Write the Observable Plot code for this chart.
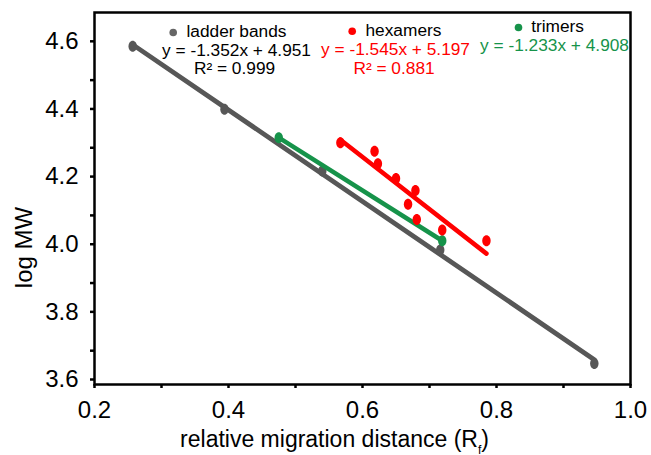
<!DOCTYPE html>
<html><head><meta charset="utf-8">
<script src="https://cdn.jsdelivr.net/npm/d3@7"></script>
<script src="https://cdn.jsdelivr.net/npm/@observablehq/plot@0.6"></script>
<style>html,body{margin:0;padding:0;background:#fff;overflow:hidden} #chart svg{display:block}</style>
</head><body><div id="chart"></div>
<script>
// ---- data ----
const ladderX = [0.257, 0.394, 0.540, 0.716, 0.946];
const ladderY = [4.600, 4.414, 4.231, 3.998, 3.662];
const hexX = [0.567, 0.618, 0.623, 0.650, 0.679, 0.668, 0.681, 0.719, 0.785];
const hexY = [4.315, 4.290, 4.253, 4.209, 4.174, 4.133, 4.088, 4.057, 4.025];
const triX = [0.475, 0.719];
const triY = [4.330, 4.025];
const seriesNames = ["ladder bands", "hexamers", "trimers"];
const equations = ["y = -1.352x + 4.951", "y = -1.545x + 5.197", "y = -1.233x + 4.908"];
const r2Labels = ["R\u00b2 = 0.999", "R\u00b2 = 0.881"];
const xMajorTicks = [0.2, 0.4, 0.6, 0.8, 1.0];
const xMinorTicks = [0.3, 0.5, 0.7, 0.9];
const yMajorTicks = [3.6, 3.8, 4.0, 4.2, 4.4, 4.6];
const yMinorTicks = [3.7, 3.9, 4.1, 4.3, 4.5];
const xTitleParts = ["relative migration distance (R", "f", ")"];
const yTitle = "log MW";

const ladder = ladderX.map((x, i) => ({x, y: ladderY[i]}));
const hex = hexX.map((x, i) => ({x, y: hexY[i]}));
const tri = triX.map((x, i) => ({x, y: triY[i]}));

const GRAY = "#575757", RED = "#ff0000", GREEN = "#16934a";
const FONT = "'Liberation Sans', Arial, sans-serif";

// vertical ellipse symbol
const ellipse = {draw(ctx) {
  const rx = 4.2, ry = 5.5, k = 0.5523;
  ctx.moveTo(rx, 0);
  ctx.bezierCurveTo(rx, ry * k, rx * k, ry, 0, ry);
  ctx.bezierCurveTo(-rx * k, ry, -rx, ry * k, -rx, 0);
  ctx.bezierCurveTo(-rx, -ry * k, -rx * k, -ry, 0, -ry);
  ctx.bezierCurveTo(rx * k, -ry, rx, -ry * k, rx, 0);
  ctx.closePath();
}};

const fmt = d3.format(".1f");
const LF = 16;
const leg = (txt, dx, dy, anchor, fill) =>
  Plot.text([txt], {frameAnchor: "top-left", dx, dy, textAnchor: anchor, lineAnchor: "bottom", fontSize: LF, fill, className: "leg"});

const chart = Plot.plot({
  width: 651, height: 455,
  marginLeft: 94, marginRight: 21, marginTop: 12, marginBottom: 71,
  style: {fontFamily: FONT, background: "white", color: "black"},
  x: {domain: [0.2, 1.0]},
  y: {domain: [3.6, 4.7]},
  marks: [
    Plot.axisX(xMinorTicks, {tickSize: 4, strokeWidth: 2.5, tickFormat: () => "", label: null}),
    Plot.axisX(xMajorTicks, {tickSize: 4, strokeWidth: 2.5, tickPadding: 12, tickFormat: fmt, fontSize: 24, label: null}),
    Plot.axisY(yMinorTicks, {tickSize: 4, strokeWidth: 2.5, tickFormat: () => "", label: null}),
    Plot.axisY(yMajorTicks, {tickSize: 4, strokeWidth: 2.5, tickPadding: 12, tickFormat: fmt, fontSize: 24, dy: -5, label: null}),
    Plot.frame({stroke: "black", strokeWidth: 2.5}),
    Plot.linearRegressionY(ladder, {x: "x", y: "y", ci: 0, stroke: GRAY, strokeWidth: 4.8, strokeLinecap: "round"}),
    Plot.dot(ladder, {x: "x", y: "y", symbol: ellipse, fill: GRAY}),
    Plot.linearRegressionY(tri, {x: "x", y: "y", ci: 0, stroke: GREEN, strokeWidth: 4.5, strokeLinecap: "round"}),
    Plot.dot(tri, {x: "x", y: "y", symbol: ellipse, fill: GREEN}),
    Plot.linearRegressionY(hex, {x: "x", y: "y", ci: 0, stroke: RED, strokeWidth: 4.5, strokeLinecap: "round"}),
    Plot.dot(hex, {x: "x", y: "y", symbol: ellipse, fill: RED}),
    // legend
    Plot.dot([seriesNames[0]], {frameAnchor: "top-left", dx: 78.7, dy: 20, r: 3.8, fill: "#666"}),
    leg(seriesNames[0], 92, 24.5, "start", "black"),
    leg(equations[0], 142, 43, "middle", "black"),
    leg(r2Labels[0], 140, 61.5, "middle", "black"),
    Plot.dot([seriesNames[1]], {frameAnchor: "top-left", dx: 257.7, dy: 18.7, r: 3.8, fill: RED}),
    leg(seriesNames[1], 271, 23, "start", "black"),
    leg(equations[1], 301, 42.5, "middle", RED),
    leg(r2Labels[1], 299.5, 61, "middle", RED),
    Plot.dot([seriesNames[2]], {frameAnchor: "top-left", dx: 424, dy: 15, r: 3.8, fill: GREEN}),
    leg(seriesNames[2], 436.7, 19, "start", "black"),
    leg(equations[2], 460, 38, "middle", GREEN),
    // axis titles
    Plot.text([xTitleParts.join("")], {frameAnchor: "bottom", dx: -28, dy: 62, textAnchor: "middle", lineAnchor: "bottom", fontSize: 23, fill: "black"}),
    Plot.text([yTitle], {frameAnchor: "left", dx: -70, dy: 49, rotate: -90, textAnchor: "middle", lineAnchor: "middle", fontSize: 24, fill: "black"})
  ]
});
document.getElementById("chart").appendChild(chart);

// legend text in the reference is horizontally wide: stretch glyphs slightly
d3.select(chart).selectAll("g.leg text").each(function() {
  const w = this.getComputedTextLength();
  this.setAttribute("textLength", (w * 1.08).toFixed(1));
  this.setAttribute("lengthAdjust", "spacingAndGlyphs");
});

// subscript "f" in the x title
d3.select(chart).selectAll("text").filter(function() { return this.textContent === xTitleParts.join(""); })
  .each(function() {
    const t = d3.select(this);
    t.text(null);
    t.append("tspan").text(xTitleParts[0]);
    t.append("tspan").attr("font-size", 12).attr("baseline-shift", "sub").text(xTitleParts[1]);
    t.append("tspan").text(xTitleParts[2]);
  });
</script>
</body></html>
